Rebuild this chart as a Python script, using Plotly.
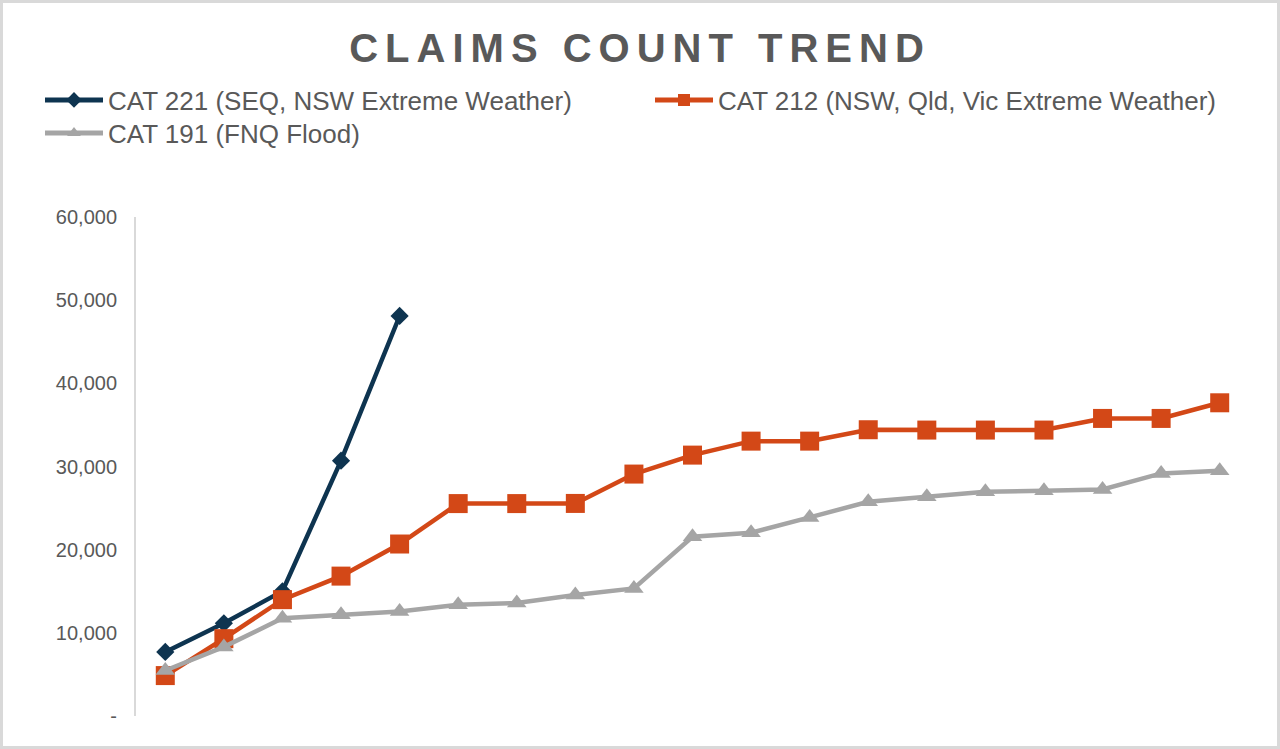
import plotly.graph_objects as go

periods = list(range(1, 20))
cat221 = [7700, 11150, 15000, 30700, 48100]
cat212 = [4860, 9300, 13990, 16820, 20680, 25540, 25540, 25560, 29090, 31370,
          33050, 33050, 34420, 34380, 34380, 34380, 35780, 35780, 37660]
cat191 = [5470, 8310, 11760, 12160, 12570, 13380, 13580, 14540, 15340, 21550,
          22030, 23880, 25760, 26360, 26960, 27080, 27240, 29170, 29490]

names = ["CAT 221 (SEQ, NSW Extreme Weather)",
         "CAT 212 (NSW, Qld, Vic Extreme Weather)",
         "CAT 191 (FNQ Flood)"]
tick_vals = [0, 10000, 20000, 30000, 40000, 50000, 60000]
tick_text = ["-", "10,000", "20,000", "30,000", "40,000", "50,000", "60,000"]

NAVY = "#0E3450"
ORANGE = "#D34817"
GREY = "#A5A5A5"
TXT = "#595959"
FONT = "Liberation Sans, Arial, sans-serif"

fig = go.Figure()
fig.add_trace(go.Scatter(x=periods[:len(cat221)], y=cat221, name=names[0], mode="lines+markers",
                         line=dict(color=NAVY, width=4.5), legend="legend",
                         marker=dict(symbol="diamond", size=14, color=NAVY)))
fig.add_trace(go.Scatter(x=periods, y=cat212, name=names[1], mode="lines+markers",
                         line=dict(color=ORANGE, width=4.5), legend="legend",
                         marker=dict(symbol="square", size=19, color=ORANGE)))
fig.add_trace(go.Scatter(x=periods, y=cat191, name=names[2], mode="lines+markers",
                         line=dict(color=GREY, width=4.5), legend="legend2",
                         marker=dict(symbol="triangle-up", size=17, color=GREY)))

L, R, T, B = 136, 31, 217, 33
W, H = 1280 - L - R, 749 - T - B

leg_common = dict(orientation="h", x=(40 - L) / W, xanchor="left", yanchor="top",
                  font=dict(size=26, color=TXT, family=FONT),
                  entrywidth=537, entrywidthmode="pixels",
                  itemwidth=58, itemsizing="constant",
                  tracegroupgap=0, bgcolor="rgba(0,0,0,0)")

fig.update_layout(
    width=1280, height=749,
    margin=dict(l=L, r=R, t=T, b=B),
    paper_bgcolor="white", plot_bgcolor="white",
    font=dict(family=FONT, color=TXT, size=20),
    title=dict(text='<span style="letter-spacing:7px">CLAIMS COUNT TREND</span>',
               x=0.5, xanchor="center", y=1 - 48 / 749, yanchor="middle",
               font=dict(size=40, color=TXT, family=FONT, weight="bold")),
    showlegend=True,
    legend=dict(y=1 + (T - 76.5) / H, **leg_common),
    legend2=dict(y=1 + (T - 109.5) / H, **leg_common),
    xaxis=dict(range=[0.5, 19.5], showticklabels=False, showgrid=False,
               zeroline=False, showline=False, ticks=""),
    yaxis=dict(range=[0, 60000], tickvals=tick_vals, ticktext=tick_text,
               showgrid=False, zeroline=False, showline=True,
               linecolor="#D9D9D9", linewidth=2, ticks="",
               ticklabelstandoff=13,
               tickfont=dict(size=20, color=TXT, family=FONT)),
    shapes=[dict(type="rect", xref="paper", yref="paper",
                 x0=(1.5 - L) / W, x1=(1278.5 - L) / W,
                 y0=(749 - B - 747.5) / H, y1=(749 - B - 1.5) / H,
                 line=dict(color="#D9D9D9", width=3), fillcolor="rgba(0,0,0,0)",
                 layer="below")],
)

fig.write_html("out.html", config={"displayModeBar": False},
               post_script="document.body.style.margin='0';document.body.style.padding='0';")
